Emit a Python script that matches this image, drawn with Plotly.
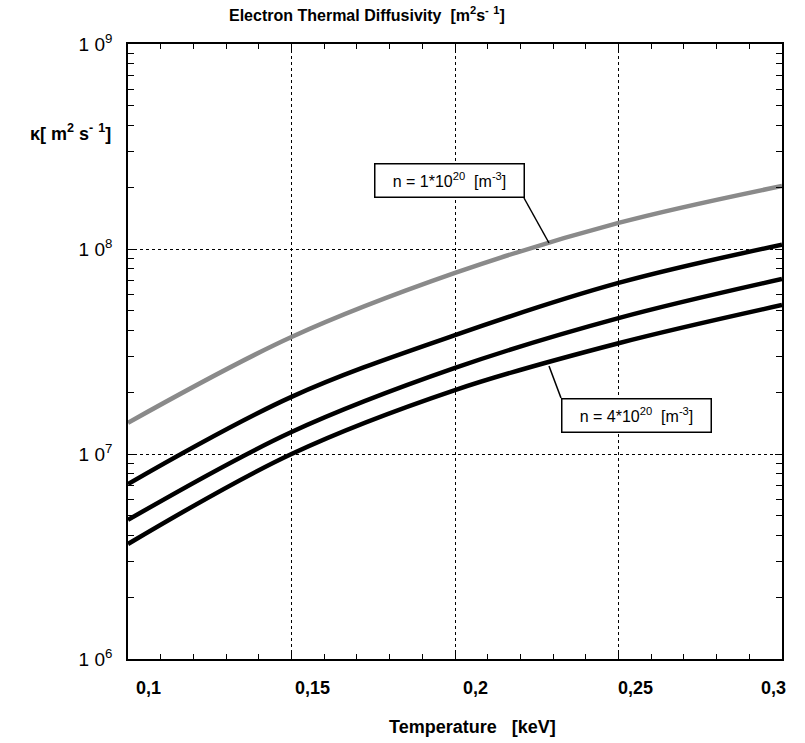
import plotly.graph_objects as go

# ---- data ----
T_keV = [0.1, 0.15, 0.2, 0.25, 0.3]
chi_n1 = [1.42e7, 3.72e7, 7.64e7, 1.34e8, 2.03e8]   # n = 1e20 (grey)
chi_n2 = [7.14e6, 1.90e7, 3.80e7, 6.83e7, 1.05e8]
chi_n3 = [4.77e6, 1.28e7, 2.63e7, 4.60e7, 7.14e7]
chi_n4 = [3.64e6, 1.00e7, 2.05e7, 3.47e7, 5.33e7]   # n = 4e20

x_ticks = [0.1, 0.15, 0.2, 0.25, 0.3]
x_ticktext = ["0,1", "0,15", "0,2", "0,25", "0,3"]
x_label_shift = [20, 21, 20, 17, -9]
y_ticks = [1e6, 1e7, 1e8, 1e9]
y_ticktext = ["1 0<sup>6</sup>", "1 0<sup>7</sup>", "1 0<sup>8</sup>", "1 0<sup>9</sup>"]

FONT = "Liberation Sans Narrow, Arial Narrow, Liberation Sans, Arial, sans-serif"

fig = go.Figure()
series = [(chi_n1, "#8a8a8a"), (chi_n2, "black"), (chi_n3, "black"), (chi_n4, "black")]
for vals, col in series:
    fig.add_trace(go.Scatter(x=T_keV, y=vals, mode="lines",
                             line=dict(color=col, width=4.5, shape="spline", smoothing=1.0),
                             showlegend=False, hoverinfo="skip"))

axis_common = dict(showline=True, linecolor="black", linewidth=1.5, mirror="allticks",
                   ticks="inside", ticklen=7, tickcolor="black", tickwidth=1.2,
                   showgrid=True, gridcolor="black", gridwidth=1.2, griddash="dot",
                   zeroline=False, automargin=False)

fig.update_xaxes(range=[0.1, 0.3], tickmode="array", tickvals=x_ticks,
                 showticklabels=False,
                 minor=dict(dtick=0.01, tick0=0.1, ticks="inside",
                            ticklen=5, tickcolor="black", tickwidth=1, showgrid=False),
                 **axis_common)
fig.update_yaxes(type="log", range=[6, 9], tickmode="array", tickvals=y_ticks,
                 ticktext=y_ticktext, ticklabelstandoff=10,
                 tickfont=dict(family=FONT, size=19, color="black"),
                 minor=dict(dtick="D1", ticks="inside",
                            ticklen=6, tickcolor="black", tickwidth=1, showgrid=False),
                 **axis_common)

L, R, TOP, B = 128, 23, 44, 84
W, H = 805, 743
pw, ph = W - L - R, H - TOP - B


def px(xp):
    return (xp - L) / pw


def py(yp):
    return (H - B - yp) / ph


# x tick labels (placed on the x scale, nudged like the original)
for v, t, s in zip(x_ticks, x_ticktext, x_label_shift):
    fig.add_annotation(text="<b>%s</b>" % t, x=v, xref="x", y=py(688), yref="paper",
                       xanchor="center", yanchor="middle", xshift=s, showarrow=False,
                       font=dict(family=FONT, size=18, color="black"))

annots = [
    dict(text="<b>Electron Thermal Diffusivity  [m<sup>2</sup>s<sup>-</sup> <sup>1</sup>]</b>",
         x=px(367), y=py(14), size=16),
    dict(text="<b>κ[ m<sup>2</sup> s<sup>-</sup> <sup>1</sup>]</b>", x=px(70), y=py(132), size=18),
    dict(text="<b>Temperature   [keV]</b>", x=px(472), y=py(727), size=18),
]
for a in annots:
    fig.add_annotation(text=a["text"], x=a["x"], y=a["y"], xref="paper", yref="paper",
                       xanchor="center", yanchor="middle",
                       showarrow=False, font=dict(family=FONT, size=a["size"], color="black"))

boxes = [
    dict(text="n = 1*10<sup>20</sup>  [m<sup>-3</sup>]", cx=449, cy=180.5,
         l0=(524, 198), l1=(549, 243)),
    dict(text="n = 4*10<sup>20</sup>  [m<sup>-3</sup>]", cx=636, cy=415.5,
         l0=(561, 398), l1=(549, 366)),
]
for b in boxes:
    fig.add_annotation(text=b["text"], x=px(b["cx"]), y=py(b["cy"]), xref="paper", yref="paper",
                       xanchor="center", yanchor="middle",
                       showarrow=False, bgcolor="white", bordercolor="black", borderwidth=1.5,
                       borderpad=6, width=136,
                       font=dict(family=FONT, size=16, color="black"))
    fig.add_shape(type="line", xref="paper", yref="paper",
                  x0=px(b["l0"][0]), y0=py(b["l0"][1]), x1=px(b["l1"][0]), y1=py(b["l1"][1]),
                  line=dict(color="black", width=1.5))

fig.update_layout(width=W, height=H, margin=dict(l=L, r=R, t=TOP, b=B),
                  paper_bgcolor="white", plot_bgcolor="white",
                  font=dict(family=FONT, color="black"))

fig.write_html("out.html")
